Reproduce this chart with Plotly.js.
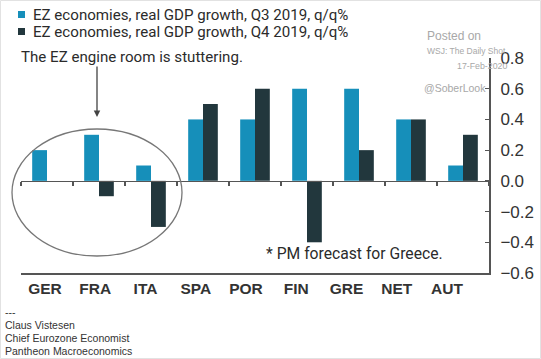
<!DOCTYPE html>
<html>
<head>
<meta charset="utf-8">
<script src="https://cdn.plot.ly/plotly-3.0.1.min.js"></script>
<style>
html,body{margin:0;padding:0;background:#fff;}
#chart{width:541px;height:359px;}
</style>
</head>
<body>
<div id="chart"></div>
<script>
// ---- data ----
const categories = ["GER","FRA","ITA","SPA","POR","FIN","GRE","NET","AUT"];
const q3Values = [0.2, 0.3, 0.1, 0.4, 0.4, 0.6, 0.6, 0.4, 0.1];
const q4Values = [0.0, -0.1, -0.3, 0.5, 0.6, -0.4, 0.2, 0.4, 0.3];
const seriesNames = ["EZ economies, real GDP growth, Q3 2019, q/q%", "EZ economies, real GDP growth, Q4 2019, q/q%"];
const yTickValues = [-0.6, -0.4, -0.2, 0.0, 0.2, 0.4, 0.6, 0.8];
const subtitle = "The EZ engine room is stuttering.";
const footnote = "* PM forecast for Greece.";
const footerLines = ["---", "Claus Vistesen", "Chief Eurozone Economist", "Pantheon Macroeconomics"];
const watermark = ["Posted on", "WSJ: The Daily Shot", "17-Feb-2020", "@SoberLook"];

// ---- styles ----
const colQ3 = "#168fba";
const colQ4 = "#22373d";
const axisCol = "#555";
const font = "Liberation Sans, Arial, sans-serif";
const font2 = "Roboto, Liberation Sans, Arial, sans-serif";

const W = 541, H = 359;
const M = {l: 21, r: 52, t: 58, b: 86};
const pw = W - M.l - M.r, ph = H - M.t - M.b;
const yMin = -0.6, yMax = 0.8;
const px = v => (v - M.l) / pw;       // pixel -> paper x
const py = v => (H - M.b - v) / ph;   // pixel -> paper y

const idx = categories.map((c, i) => i);

const traces = [
  {type: "bar", x: categories, y: q3Values, name: seriesNames[0], marker: {color: colQ3}, xaxis: "x", yaxis: "y"},
  {type: "bar", x: categories, y: q4Values, name: seriesNames[1], marker: {color: colQ4}, xaxis: "x", yaxis: "y"},
  {type: "scatter", mode: "markers", x: idx, y: idx.map(() => 0), marker: {opacity: 0}, xaxis: "x2", yaxis: "y", hoverinfo: "skip", showlegend: false}
];

// label axis: labels spaced slightly tighter than bars, as in the reference
const lab0 = 45, labStep = 50.25;
const r0 = -(lab0 - M.l) / labStep;
const r1 = r0 + pw / labStep;

const annotations = [];
[14.5, 31.5].forEach((yy, i) => {
  annotations.push({xref: "paper", yref: "paper", x: px(31), y: py(yy), xanchor: "left", yanchor: "middle",
    text: seriesNames[i], showarrow: false, font: {family: font2, size: 15.1, color: "#2b2b2b"}});
});
annotations.push({xref: "paper", yref: "paper", x: px(19), y: py(57), xanchor: "left", yanchor: "middle",
  text: subtitle, showarrow: false, font: {family: font2, size: 15.1, color: "#2b2b2b"}});
annotations.push({xref: "paper", yref: "paper", x: px(264), y: py(253), xanchor: "left", yanchor: "middle",
  text: footnote, showarrow: false, font: {family: font2, size: 15.7, color: "#2b2b2b"}});
annotations.push({xref: "paper", yref: "paper", x: px(97), y: py(117), ax: 0, ay: -52, text: "",
  showarrow: true, arrowhead: 2, arrowsize: 1, arrowwidth: 1.3, arrowcolor: "#444"});
[312, 325, 338, 351].forEach((yy, i) => {
  annotations.push({xref: "paper", yref: "paper", x: px(3), y: py(yy), xanchor: "left", yanchor: "middle",
    text: footerLines[i], showarrow: false, font: {family: font, size: 10.5, color: "#333"}});
});
const wm = [[425, 36, 12], [425, 51, 8.5], [455, 66, 8.8], [422, 88, 10.5]];
wm.forEach((w, i) => {
  annotations.push({xref: "paper", yref: "paper", x: px(w[0]), y: py(w[1]), xanchor: "left", yanchor: "middle",
    text: watermark[i], showarrow: false, font: {family: font, size: w[2], color: "#a8a8a8"}});
});

const shapes = [
  {type: "rect", xref: "paper", yref: "paper", xsizemode: "pixel", ysizemode: "pixel",
   xanchor: px(21.5), yanchor: py(14.5), x0: -3.5, x1: 3.5, y0: -3.5, y1: 3.5, fillcolor: colQ3, line: {width: 0}},
  {type: "rect", xref: "paper", yref: "paper", xsizemode: "pixel", ysizemode: "pixel",
   xanchor: px(21.5), yanchor: py(31.5), x0: -3.5, x1: 3.5, y0: -3.5, y1: 3.5, fillcolor: colQ4, line: {width: 0}},
  {type: "circle", xref: "paper", yref: "paper", x0: px(12), x1: px(182), y0: py(256), y1: py(129),
   line: {color: "#777", width: 1.3}, fillcolor: "rgba(0,0,0,0)"},
  {type: "rect", xref: "paper", yref: "paper", x0: px(0.5), x1: px(540.5), y0: py(358.5), y1: py(0.5),
   line: {color: "#e2e2e2", width: 1}, fillcolor: "rgba(0,0,0,0)", layer: "below"}
];

const layout = {
  width: W, height: H,
  margin: M,
  paper_bgcolor: "#fff", plot_bgcolor: "#fff",
  showlegend: false,
  barmode: "group", bargap: 0.43, bargroupgap: 0,
  font: {family: font, color: "#333"},
  xaxis: {type: "category", range: [-0.5, categories.length - 0.5], anchor: "free",
    position: (0 - yMin) / (yMax - yMin),
    showline: true, linecolor: axisCol, linewidth: 1.5,
    ticks: "outside", tickson: "boundaries", ticklen: 4, tickcolor: axisCol, tickwidth: 1.2,
    showticklabels: false, showgrid: false, zeroline: false, fixedrange: true},
  xaxis2: {overlaying: "x", anchor: "y", side: "bottom", type: "linear", range: [r0, r1],
    tickvals: idx, ticktext: categories, ticks: "",
    showline: true, linecolor: axisCol, linewidth: 2, showgrid: false, zeroline: false,
    tickfont: {family: font, size: 15.5, color: "#333", weight: "bold"}},
  yaxis: {side: "right", range: [yMin, yMax], tickvals: yTickValues, tickformat: ".1f",
    ticks: "inside", ticklen: 4, tickcolor: axisCol, tickwidth: 1.2,
    showline: true, linecolor: axisCol, linewidth: 2, showgrid: false, zeroline: false,
    ticklabelstandoff: 6,
    tickfont: {family: font, size: 17, color: "#333"}},
  annotations: annotations,
  shapes: shapes
};

Plotly.newPlot("chart", traces, layout, {displayModeBar: false, staticPlot: true});
</script>
</body>
</html>
